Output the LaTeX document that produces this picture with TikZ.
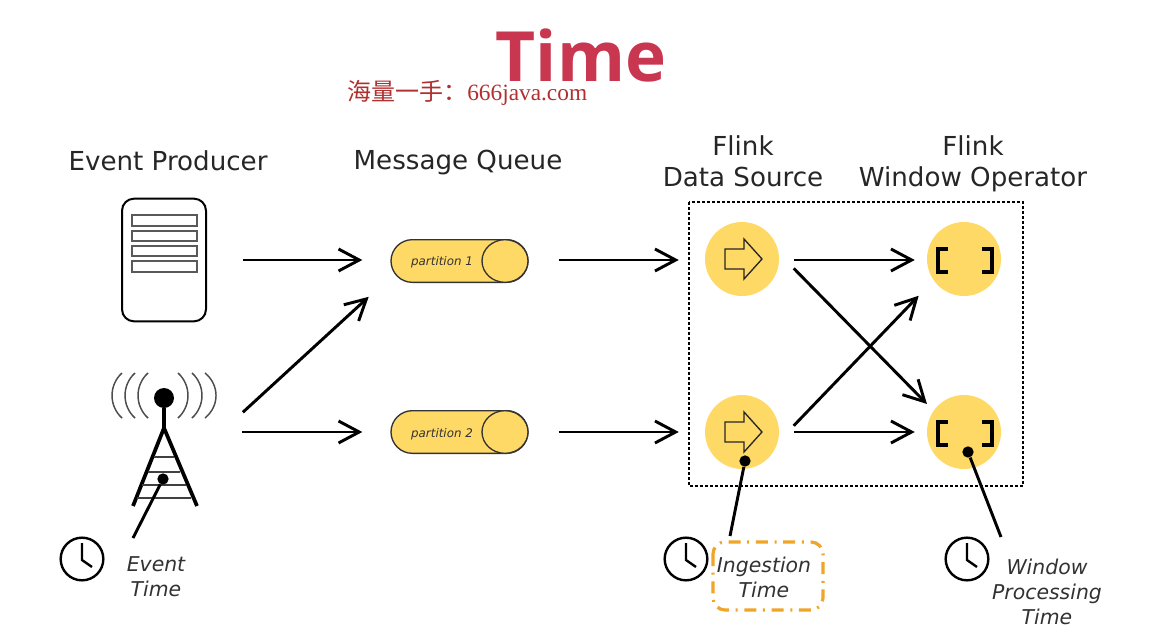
\documentclass[tikz,border=0pt]{standalone}
\usepackage{fontspec}
\setmainfont{DejaVu Sans}
\newfontfamily\titlefont{Open Sans}
\newfontfamily\cjkfont{Noto Sans CJK SC}
\newfontfamily\markfont{Liberation Serif}
\usetikzlibrary{arrows.meta,shapes.geometric}
\definecolor{flinkyellow}{RGB}{255,217,102}
\definecolor{titlered}{RGB}{200,54,80}
\definecolor{markred}{RGB}{176,48,48}
\definecolor{boxorange}{RGB}{240,165,40}
\definecolor{inkgray}{RGB}{50,50,50}
\tikzset{
    heading/.style={font=\fontsize{19.6}{23.25}\selectfont,text=black!85,align=center,inner sep=0pt},
    timetext/.style={font=\fontsize{15.3}{18.75}\selectfont\itshape,text=inkgray,align=center,inner sep=0pt},
    flow/.style={line width=2.2pt,-{Straight Barb[length=15.5pt,width=16.5pt]}},
    partition/.style={draw=black!80,fill=flinkyellow,line width=1pt,minimum width=102.75pt,minimum height=32pt,inner sep=0pt,rounded corners=16pt},
    partend/.style={draw=black!80,fill=flinkyellow,line width=1pt,ellipse,minimum width=34.5pt,minimum height=32pt,inner sep=0pt},
    partlabel/.style={font=\fontsize{8.9}{10}\selectfont\itshape,text=inkgray,inner sep=0pt},
    operator/.style={circle,fill=flinkyellow,minimum size=55.5pt,inner sep=0pt},
    pin/.style={circle,fill=black,inner sep=0pt,minimum size=8.5pt},
    clockface/.style={circle,draw=black,line width=1.8pt,minimum size=32pt,inner sep=0pt},
    clockhand/.style={line width=1.8pt},
    lead/.style={line width=2.2pt},
    wave/.style={line width=1.1pt,draw=black!70},
    slat/.style={line width=1.2pt,draw=black!65}
}
\begin{document}
\begin{tikzpicture}[x=0.75pt,y=-0.75pt]
    \useasboundingbox (0,0) rectangle (1171,639);

    % title
    \node[font=\fontsize{52}{56}\selectfont\titlefont\bfseries,text=titlered,anchor=base,inner sep=0pt] (title) at (581,81) {Time};
    \node[text=markred,anchor=base west,inner sep=0pt,font=\fontsize{18}{20}\selectfont] (mark) at (347,100) {{\cjkfont 海量一手：}{\markfont\fontsize{17.5}{20}\selectfont 666java.com}};

    % headings
    \node[heading] (hproducer) at (168,161) {Event Producer};
    \node[heading] (hqueue) at (458,163) {Message Queue};
    \node[heading] (hsource) at (743,161) {Flink\\Data Source};
    \node[heading] (hwindow) at (973,164) {Flink\\Window Operator};

    % server
    \node[draw=black,line width=1.5pt,rounded corners=9pt,minimum width=63pt,minimum height=92pt,inner sep=0pt] (server) at (164,260) {};
    \draw[slat] (132,215) rectangle (197,226);
    \draw[slat] (132,231) rectangle (197,241);
    \draw[slat] (132,246) rectangle (197,256);
    \draw[slat] (132,261) rectangle (197,272);

    % tower
    \node[circle,fill=black,minimum size=15pt,inner sep=0pt] (mast) at (164,398) {};
    \coordinate (towerjoint) at (164,428);
    \coordinate (towerleft) at (133,506);
    \coordinate (towerright) at (197,506);
    \coordinate (tower) at (217,436);
    \draw[line width=2.8pt] (mast) -- (towerjoint);
    \draw[line width=2.8pt] (towerleft) -- (towerjoint) -- (towerright);
    \draw[line width=1pt,black!75] (154,457) -- (174,457);
    \draw[line width=1pt,black!75] (148,472) -- (180,472);
    \draw[line width=1pt,black!75] (142,485) -- (186,485);
    \draw[line width=1pt,black!75] (137,498) -- (191,498);
    \draw[wave] (122,373) .. controls (108.7,385) and (108.7,406) .. (122,418);
    \draw[wave] (135,373) .. controls (121.7,385) and (121.7,406) .. (135,418);
    \draw[wave] (148,373) .. controls (134.7,385) and (134.7,406) .. (148,418);
    \draw[wave] (178,373) .. controls (191.3,385) and (191.3,406) .. (178,418);
    \draw[wave] (192,373) .. controls (205.3,385) and (205.3,406) .. (192,418);
    \draw[wave] (205,373) .. controls (219.7,385) and (219.7,406) .. (205,418);

    % partitions
    \node[partition] (part1) at (459.5,261) {};
    \node[partition] (part2) at (459.5,432) {};
    \node[partend] (end1) at (505,261) {};
    \node[partend] (end2) at (505,432) {};
    \node[partlabel] (lab1) at (442,262) {partition 1};
    \node[partlabel] (lab2) at (442,434) {partition 2};

    % operators
    \node[operator] (src1) at (742,259) {};
    \node[operator] (src2) at (742,432) {};
    \node[operator] (op1) at (964,259) {};
    \node[operator] (op2) at (964,432) {};
    \draw[black,line width=1.4pt,dash pattern=on 2pt off 1.75pt] (689,202) rectangle (1023,486);
    \foreach \n in {src1,src2}{
        \draw[line width=1pt,black!85,shift={(\n)}] (-17,-10) -- (2,-10) -- (2,-20) -- (20,0) -- (2,20) -- (2,10) -- (-17,10) -- cycle;
    }
    \foreach \n in {op1,op2}{
        \draw[line width=3pt,shift={(\n)}] (-16,-10) -- (-26,-10) -- (-26,13) -- (-16,13);
        \draw[line width=3pt,shift={(\n)}] (18,-10) -- (28,-10) -- (28,13) -- (18,13);
    }

    % flows
    \draw[flow,shorten <=27pt,shorten >=21pt] (server.east) -- (server.east -| part1.west);
    \draw[flow,shorten <=26.3pt,shorten >=22pt] (tower) -- (part1.193);
    \draw[flow,shorten <=19pt,shorten >=21pt] (tower |- part2.west) -- (part2.west);
    \draw[flow,shorten <=22.5pt,shorten >=19.5pt] (part1.east |- server.east) -- (src1.west |- server.east);
    \draw[flow,shorten <=22.5pt,shorten >=19.5pt] (part2.east) -- (src2.west);
    \draw[flow,shorten <=11.25pt,shorten >=9pt] (src1.east |- server.east) -- (op1.west |- server.east);
    \draw[flow,shorten <=11.25pt,shorten >=9pt] (src2.east) -- (op2.west);
    \draw[flow,shorten <=16pt,shorten >=7pt] (src1.9) -- (op2.145);
    \draw[flow,shorten <=17.2pt,shorten >=16pt] (src2.-16) -- (op1.215);

    % time markers
    \node[pin] (eventpin) at (163,479) {};
    \node[pin] (ingestpin) at (745,461) {};
    \node[pin] (windowpin) at (968,452) {};
    \coordinate (eventend) at (133,538);
    \coordinate (ingestend) at (730,536);
    \coordinate (windowend) at (1001,537);
    \draw[lead] (eventpin) -- (eventend);
    \draw[lead] (ingestpin) -- (ingestend);
    \draw[lead] (windowpin) -- (windowend);

    % clocks
    \node[clockface] (clock1) at (82,559) {};
    \node[clockface] (clock2) at (686,559) {};
    \node[clockface] (clock3) at (967,559) {};
    \foreach \n in {clock1,clock2,clock3}{
        \draw[clockhand,shift={(\n)}] (0,-16) -- (0,1) -- (10,8);
    }

    % labels
    \node[timetext] (eventtime) at (156,577) {Event\\Time};
    \node[timetext] (ingesttime) at (764,577) {Ingestion\\Time};
    \node[timetext] (windowtime) at (1047,592) {Window\\Processing\\Time};
    \draw[boxorange,line width=2.4pt,rounded corners=9pt,dash pattern=on 9pt off 5pt on 1.5pt off 5pt] (713,542) rectangle (823,610);
\end{tikzpicture}
\end{document}
